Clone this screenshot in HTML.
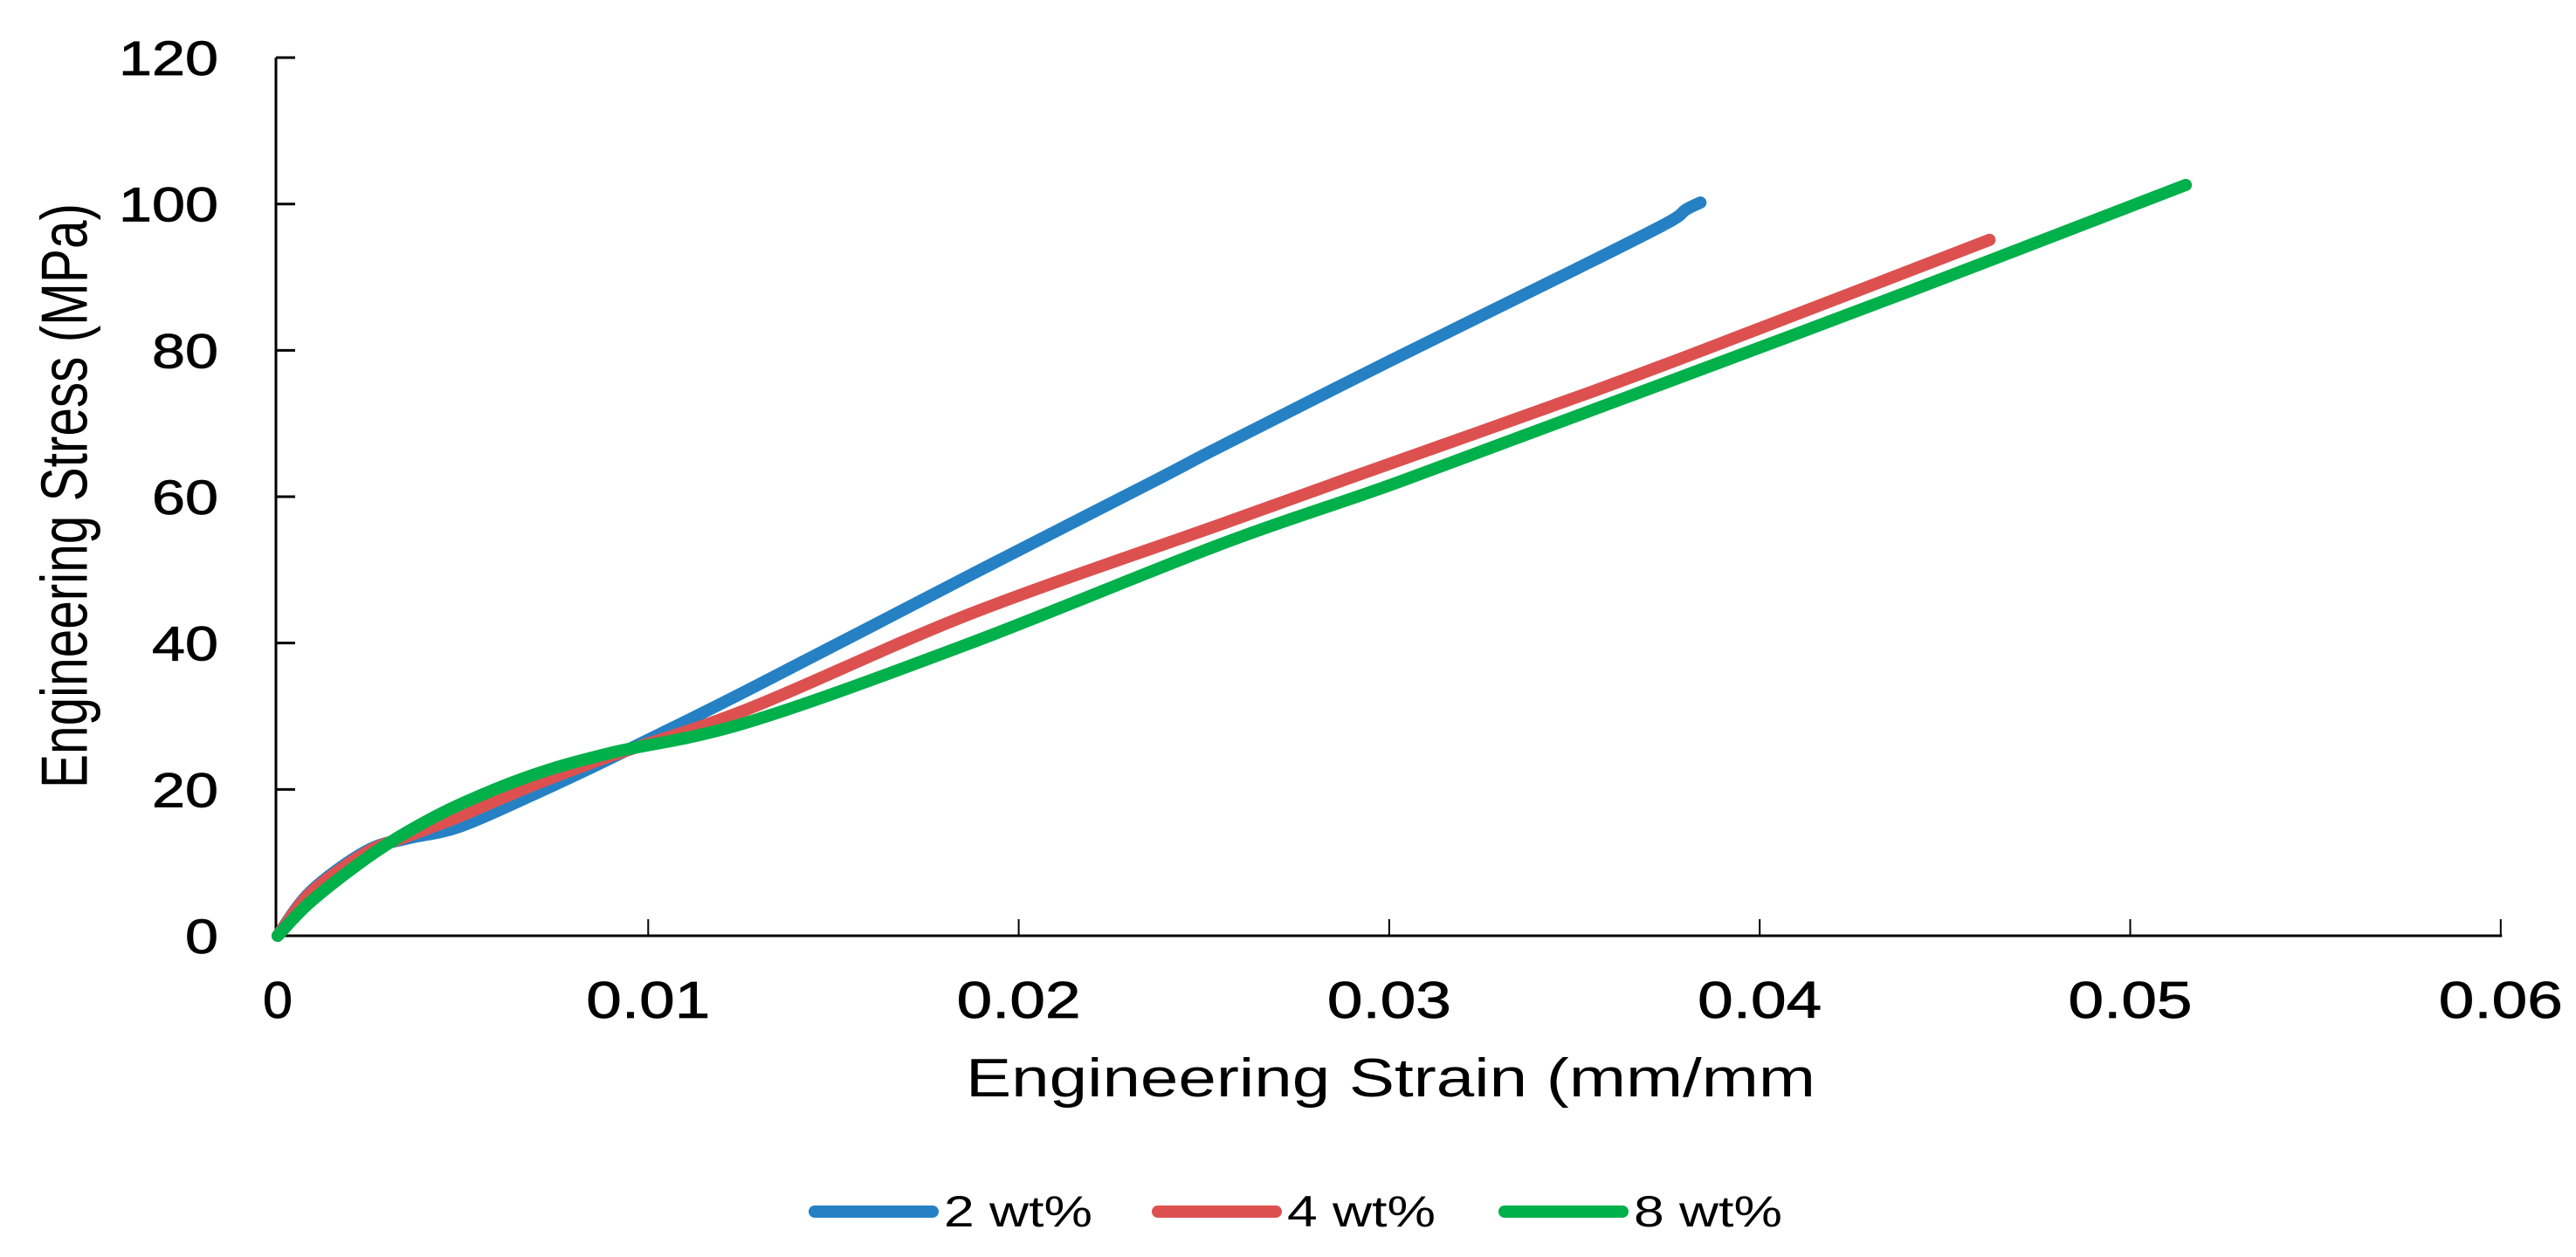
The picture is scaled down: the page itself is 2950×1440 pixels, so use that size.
<!DOCTYPE html>
<html><head><meta charset="utf-8"><style>
html,body{margin:0;padding:0;background:#fff;}
svg{display:block;font-family:"Liberation Sans",Arial,sans-serif;}
</style></head><body>
<svg id="chart" width="2950" height="1440" viewBox="0 0 2950 1440" xmlns="http://www.w3.org/2000/svg">
<rect width="2950" height="1440" fill="#fff"/>
<g id="axes"></g>
<g id="series"></g>
<text transform="translate(73,568) scale(1.25,1) rotate(-90)" y="21" text-anchor="middle" font-size="60" textLength="670" lengthAdjust="spacingAndGlyphs">Engineering Stress (MPa)</text>
<text x="1106" y="1256" font-size="62" textLength="973" lengthAdjust="spacingAndGlyphs">Engineering Strain (mm/mm</text>
<g id="legend"></g>
</svg>
<script>
const xTicks = [0, 0.01, 0.02, 0.03, 0.04, 0.05, 0.06];
const xTickLabels = ["0", "0.01", "0.02", "0.03", "0.04", "0.05", "0.06"];
const yTicks = [0, 20, 40, 60, 80, 100, 120];
const yTickLabels = ["0", "20", "40", "60", "80", "100", "120"];
const seriesNames = ["2 wt%", "4 wt%", "8 wt%"];
const strain2 = [0,0.0009,0.0024,0.0035,0.0049,0.0069,0.009,0.0127,0.0187,0.0236,0.0255,0.03,0.035,0.0375,0.038,0.0384];
const stress2 = [0,6.1,11.6,13.3,14.9,19.3,24.3,33.6,49.3,62.0,67,78.5,91,97.4,99.2,100.2];
const strain4 = [0,0.0009,0.0024,0.0035,0.0049,0.0069,0.009,0.0127,0.0187,0.0255,0.0289,0.0355,0.04,0.0462];
const stress4 = [0,5.9,11.4,13.6,16.3,20.6,24.6,31.0,44.0,56.3,62.5,74.4,83,95.1];
const strain8 = [0,0.0009,0.0024,0.0035,0.0049,0.0069,0.009,0.0127,0.0187,0.0255,0.0302,0.0361,0.044,0.0515];
const stress8 = [0,4.7,10.6,14.2,17.9,22.0,25.0,29.2,40.0,53.6,61.9,73.0,88,102.6];

const NS = "http://www.w3.org/2000/svg";
const X0 = 318, XPER = 42430, Y0 = 1072, YPER = 8.383;
function sx(v){ return X0 + v * XPER; }
function sy(v){ return Y0 - v * YPER; }
function mk(tag, attrs, parent){
  const e = document.createElementNS(NS, tag);
  for (const k in attrs) e.setAttribute(k, attrs[k]);
  parent.appendChild(e);
  return e;
}
function smoothPath(p){
  let d = 'M' + p[0][0].toFixed(1) + ',' + p[0][1].toFixed(1);
  for (let i = 0; i < p.length - 1; i++) {
    const a = p[Math.max(0, i-1)], b = p[i], c = p[i+1], e = p[Math.min(p.length-1, i+2)];
    const c1x = b[0] + (c[0]-a[0])/6, c1y = b[1] + (c[1]-a[1])/6;
    const c2x = c[0] - (e[0]-b[0])/6, c2y = c[1] - (e[1]-b[1])/6;
    d += ' C' + c1x.toFixed(1) + ',' + c1y.toFixed(1) + ' ' + c2x.toFixed(1) + ',' + c2y.toFixed(1) + ' ' + c[0].toFixed(1) + ',' + c[1].toFixed(1);
  }
  return d;
}
const axes = document.getElementById('axes');
const ya = mk('line', {x1:316, y1:sy(120), x2:316, y2:Y0+1.5, stroke:'#000', 'stroke-width':3}, axes);


const xa = mk('line', {x1:316, y1:Y0, x2:sx(0.06)+1.5, y2:Y0, stroke:'#000', 'stroke-width':3}, axes);


yTicks.forEach((v, i) => {
  const t = mk('line', {x1:316, y1:sy(v), x2:338, y2:sy(v), stroke:'#000', 'stroke-width':3}, axes);
  
  
  const lab = yTickLabels[i];
  const tx = mk('text', {x:250, y:sy(v)+20, 'text-anchor':'end', 'font-size':56, stroke:'#000', 'stroke-width':0.8, textLength:lab.length*38, lengthAdjust:'spacingAndGlyphs'}, axes);
  tx.textContent = lab;
  
  
});
xTicks.forEach((v, i) => {
  if (i > 0) {
    const t = mk('line', {x1:sx(v), y1:Y0, x2:sx(v), y2:Y0-19, stroke:'#000', 'stroke-width':2}, axes);
    
    
  }
  const lab = xTickLabels[i];
  const tx = mk('text', {x:sx(v), y:1166, 'text-anchor':'middle', 'font-size':59, stroke:'#000', 'stroke-width':0.8, textLength: lab.length === 1 ? 34 : 142, lengthAdjust:'spacingAndGlyphs'}, axes);
  tx.textContent = lab;
  
  
});
const colors = ['#2581C4', '#DC5150', '#00B04A'];
const data = [[strain2, stress2], [strain4, stress4], [strain8, stress8]];
const sg = document.getElementById('series');
data.forEach((d, k) => {
  const pts = d[0].map((x, i) => [sx(x), sy(d[1][i])]);
  const p = mk('path', {d:smoothPath(pts), fill:'none', stroke:colors[k], 'stroke-width':14, 'stroke-linejoin':'round', 'stroke-linecap':'round'}, sg);
  
  
});
const lg = document.getElementById('legend');
const lx = [933, 1326, 1723];
seriesNames.forEach((n, k) => {
  const l = mk('line', {x1:lx[k], y1:1388, x2:lx[k]+135, y2:1388, stroke:colors[k], 'stroke-width':14, 'stroke-linecap':'round'}, lg);
  
  
  const t = mk('text', {x:lx[k]+148, y:1405, 'font-size':50, textLength:170, lengthAdjust:'spacingAndGlyphs'}, lg);
  t.textContent = n;
  
  
});
</script>
</body></html>
